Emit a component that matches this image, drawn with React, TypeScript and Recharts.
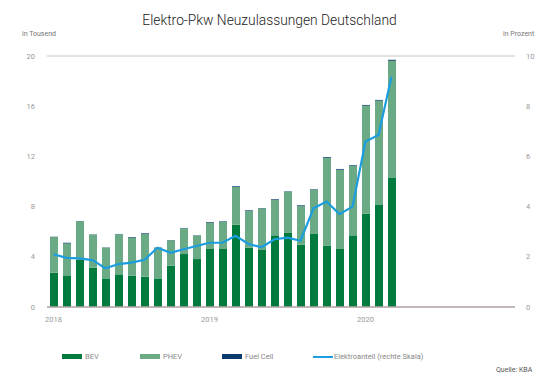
import {
  Bar,
  CartesianGrid,
  ComposedChart,
  Line,
  XAxis,
  YAxis
} from "recharts";

const months = [
  "2018-01", "2018-02", "2018-03", "2018-04", "2018-05", "2018-06",
  "2018-07", "2018-08", "2018-09", "2018-10", "2018-11", "2018-12",
  "2019-01", "2019-02", "2019-03", "2019-04", "2019-05", "2019-06",
  "2019-07", "2019-08", "2019-09", "2019-10", "2019-11", "2019-12",
  "2020-01", "2020-02", "2020-03", "2020-04", "2020-05", "2020-06",
  "2020-07", "2020-08", "2020-09", "2020-10", "2020-11", "2020-12"
];

// thousand registrations per month
const bev = [
  2.73, 2.52, 3.75, 3.13, 2.28, 2.6, 2.5, 2.42, 2.28, 3.29, 4.22, 3.82,
  4.62, 4.62, 6.56, 4.73, 4.54, 5.71, 5.9, 4.96, 5.82, 4.9, 4.62, 5.71,
  7.44, 8.13, 10.28
];
const phev = [
  2.85, 2.54, 3.08, 2.64, 2.45, 3.2, 3.03, 3.39, 2.45, 2.03, 2.05, 1.86,
  2.07, 2.17, 3.0, 2.91, 3.32, 2.81, 3.29, 3.08, 3.55, 6.99, 6.32, 5.52,
  8.6, 8.31, 9.34
];
const fuelCell = [
  0.02, 0.06, 0.02, 0.02, 0.02, 0.02, 0.05, 0.06, 0.02, 0.02, 0.03, 0.03,
  0.06, 0.04, 0.06, 0.06, 0.03, 0.06, 0.03, 0.06, 0.03, 0.06, 0.06, 0.06,
  0.06, 0.06, 0.08
];
// share of new registrations in percent
const share = [
  2.1, 1.96, 1.94, 1.87, 1.54, 1.71, 1.77, 1.88, 2.36, 2.16, 2.3, 2.43,
  2.56, 2.56, 2.84, 2.51, 2.38, 2.7, 2.76, 2.64, 3.93, 4.2, 3.7, 4.0,
  6.59, 6.85, 9.17
];

const leftTicks = [0, 4, 8, 12, 16, 20];
const rightTicks = [0, 2, 4, 6, 8, 10];
const yearTicks = ["2018-01", "2019-01", "2020-01"];

const C_BEV = "#007a3d";
const C_PHEV = "#6aab86";
const C_FC = "#0b3b6e";
const C_LINE = "#1b9de0";
const FONT = "Roboto, 'Noto Sans', sans-serif";

const data = months.map((m, i) => ({
  month: m,
  bev: bev[i] ?? null,
  phev: phev[i] ?? null,
  fuelCell: fuelCell[i] ?? null,
  share: share[i] ?? null
}));

const tickStyle = { fontSize: 7.5, fill: "#999", fontFamily: FONT };

const legendItems = [
  { label: "BEV", color: C_BEV, x: 62, line: false },
  { label: "PHEV", color: C_PHEV, x: 140, line: false },
  { label: "Fuel Cell", color: C_FC, x: 222, line: false },
  { label: "Elektroanteil (rechte Skala)", color: C_LINE, x: 313, line: true }
];

export default function App() {
  return (
    <div
      style={{
        position: "fixed",
        left: 0,
        top: 0,
        width: 539,
        height: 385,
        background: "#fff",
        fontFamily: FONT
      }}
    >
      <div
        style={{
          position: "absolute",
          top: 12,
          left: 0,
          width: 539,
          textAlign: "center",
          fontSize: 13.8,
          fontWeight: 300,
          color: "#222"
        }}
      >
        Elektro-Pkw Neuzulassungen Deutschland
      </div>
      <div style={{ position: "absolute", top: 30, left: 22, fontSize: 7, color: "#777" }}>
        in Tousend
      </div>
      <div style={{ position: "absolute", top: 30, left: 503, fontSize: 7, color: "#777" }}>
        in Prozent
      </div>

      <ComposedChart
        width={539}
        height={385}
        data={data}
        margin={{ top: 56, right: 0, bottom: 58, left: 0 }}
        barSize={8}
      >
        <CartesianGrid vertical={false} stroke="#c6c6c6" />
        <XAxis
          dataKey="month"
          ticks={yearTicks}
          tickFormatter={(v: string) => v.slice(0, 4)}
          interval={0}
          tick={tickStyle}
          tickLine={false}
          axisLine={{ stroke: "#b9a9a9", strokeWidth: 1.5 }}
          height={20}
          tickMargin={4}
        />
        <YAxis
          yAxisId="left"
          domain={[0, 20]}
          ticks={leftTicks}
          tick={tickStyle}
          axisLine={false}
          tickLine={false}
          width={47}
          tickMargin={6}
        />
        <YAxis
          yAxisId="right"
          orientation="right"
          domain={[0, 10]}
          ticks={rightTicks}
          tick={tickStyle}
          axisLine={false}
          tickLine={false}
          width={24}
          tickMargin={5}
        />
        <Bar yAxisId="left" dataKey="bev" stackId="a" fill={C_BEV} isAnimationActive={false} />
        <Bar yAxisId="left" dataKey="phev" stackId="a" fill={C_PHEV} isAnimationActive={false} />
        <Bar yAxisId="left" dataKey="fuelCell" stackId="a" fill={C_FC} isAnimationActive={false} />
        <Line
          yAxisId="right"
          dataKey="share"
          type="linear"
          stroke={C_LINE}
          strokeWidth={2.2}
          dot={false}
          isAnimationActive={false}
        />
      </ComposedChart>

      {legendItems.map((it) => (
        <div
          key={it.label}
          style={{
            position: "absolute",
            top: 352,
            left: it.x,
            display: "flex",
            alignItems: "center",
            fontSize: 7.5,
            color: "#888"
          }}
        >
          <span
            style={{
              display: "inline-block",
              width: 20,
              height: it.line ? 2 : 5,
              background: it.color,
              marginRight: it.line ? 1 : 3
            }}
          />
          {it.label}
        </div>
      ))}
      <div style={{ position: "absolute", top: 366, left: 496, fontSize: 7, color: "#555" }}>
        Quelle: KBA
      </div>
    </div>
  );
}
